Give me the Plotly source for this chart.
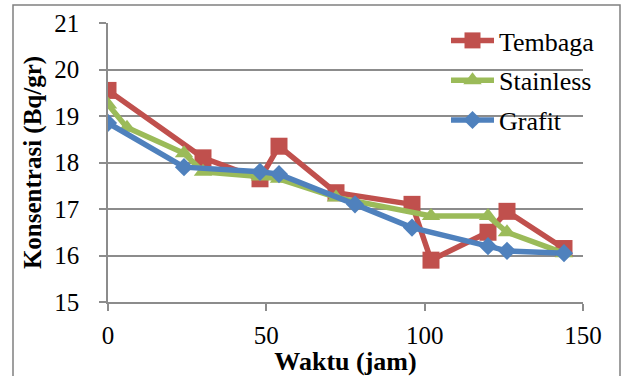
import plotly.graph_objects as go

# Data
tembaga_x = [0, 30, 48, 54, 72, 96, 102, 120, 126, 144]
tembaga_y = [19.55, 18.1, 17.65, 18.35, 17.35, 17.1, 15.9, 16.5, 16.95, 16.15]

stainless_x = [0, 6, 24, 30, 48, 54, 72, 102, 120, 126, 144]
stainless_y = [19.25, 18.75, 18.2, 17.8, 17.7, 17.65, 17.25, 16.85, 16.85, 16.5, 16.05]

grafit_x = [0, 24, 48, 54, 78, 96, 120, 126, 144]
grafit_y = [18.85, 17.9, 17.8, 17.75, 17.1, 16.6, 16.2, 16.1, 16.05]

x_ticks = [0, 50, 100, 150]
y_ticks = [15, 16, 17, 18, 19, 20, 21]

FONT = "Liberation Serif"
GRID = "#8c8c8c"

fig = go.Figure()
fig.add_trace(go.Scatter(x=tembaga_x, y=tembaga_y, name="Tembaga", mode="lines+markers",
                         legendgroup="a",
                         line=dict(color="#C0504D", width=5.5),
                         marker=dict(symbol="square", size=17, color="#C0504D")))
fig.add_trace(go.Scatter(x=stainless_x, y=stainless_y, name="Stainless", mode="lines+markers",
                         legendgroup="b",
                         line=dict(color="#9BBB59", width=5.5),
                         marker=dict(symbol="triangle-up", size=16, color="#9BBB59")))
fig.add_trace(go.Scatter(x=grafit_x, y=grafit_y, name="Grafit", mode="lines+markers",
                         legendgroup="c",
                         line=dict(color="#4F81BD", width=5.5),
                         marker=dict(symbol="diamond", size=14, color="#4F81BD")))

L, R, T, B = 108, 39, 23, 74
W, H = 622, 376
pw = W - L - R
ph = H - T - B

def px2paper_x(px):
    return (px - L) / pw

def px2paper_y(py):
    return 1 - (py - T) / ph

fig.update_layout(
    width=W, height=H,
    margin=dict(l=L, r=R, t=T, b=B, autoexpand=False),
    paper_bgcolor="white", plot_bgcolor="white",
    font=dict(family=FONT, color="black", size=25),
    showlegend=True,
    legend=dict(x=px2paper_x(446), y=px2paper_y(17), xanchor="left", yanchor="top",
                bgcolor="rgba(0,0,0,0)", font=dict(size=26, family=FONT, color="black"),
                traceorder="grouped", tracegroupgap=3, itemwidth=43),
    xaxis=dict(range=[0, 150], tickvals=x_ticks, showgrid=False, zeroline=False,
               automargin=False,
               showline=True, linecolor=GRID, linewidth=1.5,
               ticks="outside", ticklen=7, tickcolor=GRID, tickwidth=1.5,
               ticklabelstandoff=3,
               tickfont=dict(size=25, family=FONT, color="black"),
               title=dict(text="<b>Waktu (jam)</b>", font=dict(size=26, family=FONT, color="black"), standoff=0)),
    yaxis=dict(range=[15, 21], tickvals=y_ticks, showgrid=True, gridcolor=GRID, gridwidth=1.5,
               automargin=False,
               zeroline=False, showline=True, linecolor=GRID, linewidth=1.5,
               ticks="outside", ticklen=7, tickcolor=GRID, tickwidth=1.5,
               ticklabelstandoff=15,
               tickfont=dict(size=25, family=FONT, color="black"),
               title=dict(text="<b>Konsentrasi (Bq/gr)</b>", font=dict(size=25, family=FONT, color="black"), standoff=6)),
    shapes=[
        dict(type="rect", xref="paper", yref="paper",
             x0=px2paper_x(13), x1=px2paper_x(620), y0=px2paper_y(380), y1=px2paper_y(5),
             line=dict(color="#808080", width=1.5), fillcolor="rgba(0,0,0,0)", layer="below"),
    ],
)

fig.write_html("out.html")
